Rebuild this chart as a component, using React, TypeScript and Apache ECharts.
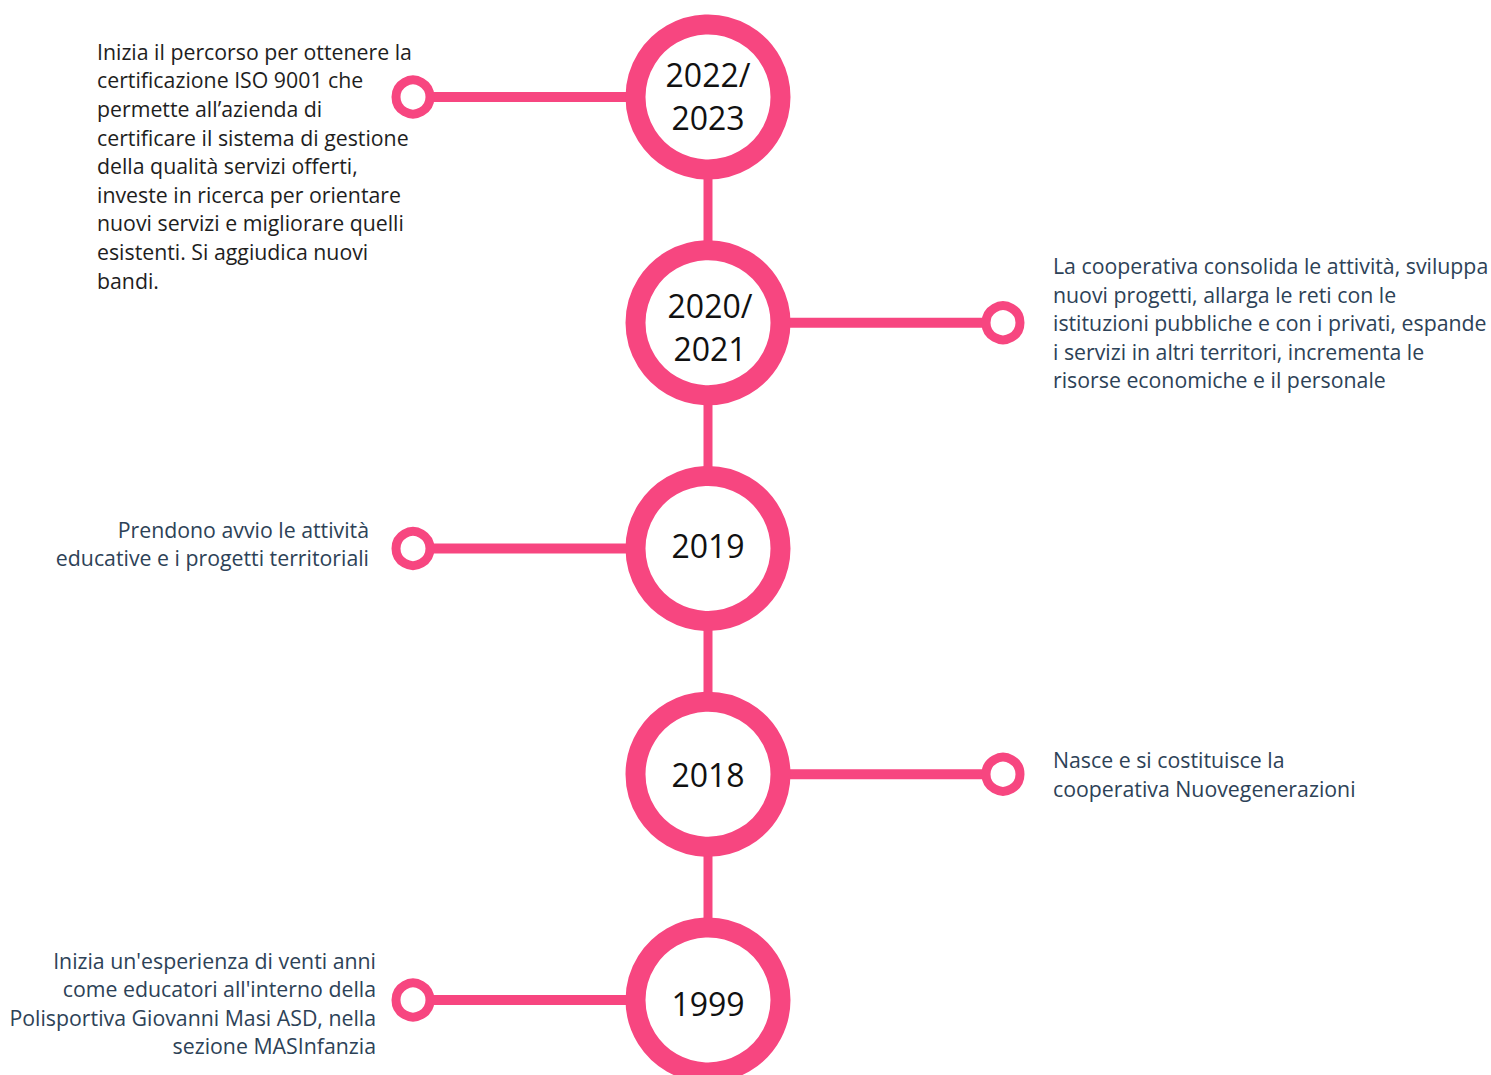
import React, { useEffect, useRef } from "react";
import * as echarts from "echarts";

// ---- data ----
const years: string[] = ["2022/\n2023", "2020/\n2021", "2019", "2018", "1999"];
const sides: number[] = [-1, 1, -1, 1, -1]; // -1 = description on the left, 1 = on the right
const descriptions: string[] = [
  "Inizia il percorso per ottenere la\ncertificazione ISO 9001 che\npermette all\u2019azienda di\ncertificare il sistema di gestione\ndella qualit\u00e0 servizi offerti,\ninveste in ricerca per orientare\nnuovi servizi e migliorare quelli\nesistenti. Si aggiudica nuovi\nbandi.",
  "La cooperativa consolida le attivit\u00e0, sviluppa\nnuovi progetti, allarga le reti con le\nistituzioni pubbliche e con i privati, espande\ni servizi in altri territori, incrementa le\nrisorse economiche e il personale",
  "Prendono avvio le attivit\u00e0\neducative e i progetti territoriali",
  "Nasce e si costituisce la\ncooperativa Nuovegenerazioni",
  "Inizia un'esperienza di venti anni\ncome educatori all'interno della\nPolisportiva Giovanni Masi ASD, nella\nsezione MASInfanzia",
];

// ---- styles ----
const PINK = "#F74680";
const LINE_H = 28.6;
const FONT = "'Open Sans', 'Noto Sans', sans-serif";
const rowStyle: Array<{ align: string; dx: number; dy: number; yearDx: number; yearDy: number; color: string }> = [
  { align: "left", dx: -316, dy: -1, yearDx: 0, yearDy: -1, color: "#1e1e1e" },
  { align: "left", dx: 50, dy: 0, yearDx: 2, yearDy: 4, color: "#2d4257" },
  { align: "right", dx: -44, dy: -5, yearDx: 0, yearDy: -3, color: "#2d4257" },
  { align: "left", dx: 50, dy: 0, yearDx: 0, yearDy: 0, color: "#2d4257" },
  { align: "right", dx: -37, dy: 3, yearDx: 0, yearDy: 3, color: "#2d4257" },
];

export default function App() {
  const ref = useRef<HTMLDivElement>(null);
  useEffect(() => {
    document.body.style.margin = "0";
    const chart = echarts.init(ref.current!, null, { renderer: "svg" });
    const spineData = years.map((y) => [0, y]);
    const rowData = years.map((y, i) => [sides[i], y, i]);
    chart.setOption({
      animation: false,
      backgroundColor: "#ffffff",
      grid: { left: 413, right: 488, top: 97, bottom: 75 },
      xAxis: { type: "value", min: -1, max: 1, show: false },
      yAxis: {
        type: "category",
        data: years,
        inverse: true,
        boundaryGap: false,
        show: false,
      },
      series: [
        {
          type: "line",
          data: spineData,
          symbol: "none",
          lineStyle: { color: PINK, width: 9 },
          z: 1,
        },
        {
          type: "custom",
          data: rowData,
          z: 2,
          renderItem: (params: any, api: any) => {
            const side = api.value(0);
            const idx = api.value(2);
            const c = api.coord([0, idx]);
            const s = api.coord([side, idx]);
            const st = rowStyle[idx];
            const lines = descriptions[idx].split("\n").length;
            const h = lines * LINE_H;
            const top = Math.max(c[1] - h / 2, 38) + st.dy;
            return {
              type: "group",
              children: [
                {
                  type: "line",
                  shape: { x1: s[0], y1: s[1], x2: c[0], y2: c[1] },
                  style: { stroke: PINK, lineWidth: 10 },
                },
                {
                  type: "circle",
                  shape: { cx: s[0], cy: s[1], r: 17 },
                  style: { fill: "#ffffff", stroke: PINK, lineWidth: 9 },
                },
                {
                  type: "circle",
                  shape: { cx: c[0], cy: c[1], r: 72.5 },
                  style: { fill: "#ffffff", stroke: PINK, lineWidth: 20 },
                },
                {
                  type: "text",
                  style: {
                    x: c[0] + st.yearDx,
                    y: c[1] + st.yearDy,
                    text: years[idx],
                    font: `32px ${FONT}`,
                    fill: "#111111",
                    align: "center",
                    verticalAlign: "middle",
                    lineHeight: 43,
                  },
                },
                {
                  type: "text",
                  style: {
                    x: s[0] + st.dx,
                    y: top,
                    text: descriptions[idx],
                    font: `21.3px ${FONT}`,
                    fill: st.color,
                    align: st.align,
                    verticalAlign: "top",
                    lineHeight: LINE_H,
                  },
                },
              ],
            };
          },
        },
      ],
    });
    return () => chart.dispose();
  }, []);
  return <div ref={ref} style={{ width: 1491, height: 1075 }} />;
}
